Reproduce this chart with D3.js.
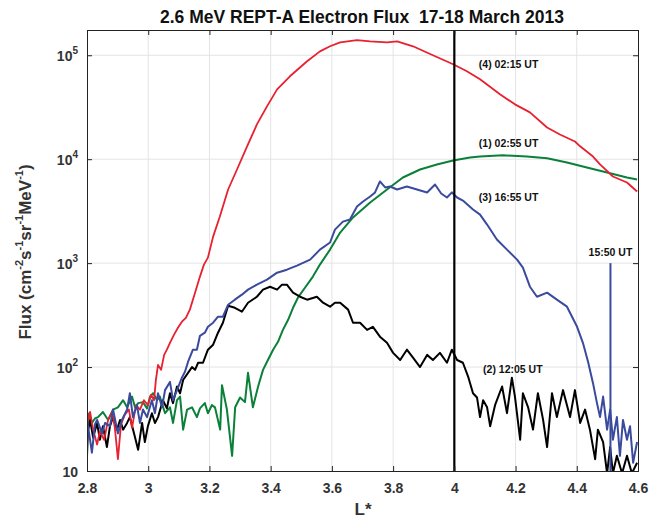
<!DOCTYPE html>
<html><head><meta charset="utf-8">
<script src="https://cdn.jsdelivr.net/npm/d3@7"></script>
<style>body{margin:0;background:#fff}svg{display:block}text{font-family:"Liberation Sans",Arial,sans-serif}</style>
</head><body><svg id="c" width="650" height="522"></svg>
<script>
const title = "2.6 MeV REPT-A Electron Flux\u00a0\u00a017-18 March 2013";
const xTicks = [2.8,3,3.2,3.4,3.6,3.8,4,4.2,4.4,4.6];
const yTicks = [10,100,1000,10000,100000];

// (4) 02:15 UT — red
const redL = [2.80,2.81,2.82,2.833,2.842,2.856,2.869,2.882,2.891,2.901,2.911,2.924,2.937,2.947,2.96,2.973,2.986,2.999,3.009,3.019,3.025,3.032,3.042,3.052,3.061,3.071,3.084,3.097,3.11,3.123,3.136,3.153,3.169,3.182,3.195,3.212,3.234,3.261,3.29,3.323,3.355,3.388,3.421,3.463,3.519,3.561,3.594,3.627,3.682,3.725,3.78,3.813,3.865,3.93,3.996,4.041,4.084,4.149,4.198,4.247,4.303,4.345,4.394,4.411,4.453,4.476,4.518,4.564,4.597];
const redFlux = [28,37,25,18,24,20,31,37,26,13,28,35,39,26,43,39,48,43,54,48,75,105,94,131,147,171,204,239,273,298,357,520,742,968,1130,1800,2810,5110,7960,13270,21600,32200,47000,62800,87600,109000,122000,133000,140000,136000,133000,136000,122000,100000,81900,70100,58700,42100,33700,28200,20200,17300,14800,13300,10600,8900,6820,5970,4890];

// (1) 02:55 UT — green
const greenL = [2.80,2.807,2.816,2.826,2.836,2.852,2.869,2.885,2.901,2.918,2.931,2.947,2.957,2.967,2.983,2.996,3.006,3.016,3.029,3.038,3.055,3.071,3.081,3.094,3.104,3.114,3.127,3.143,3.159,3.169,3.185,3.195,3.208,3.218,3.235,3.241,3.257,3.274,3.284,3.3,3.316,3.326,3.342,3.359,3.375,3.391,3.408,3.424,3.44,3.457,3.473,3.489,3.512,3.538,3.561,3.594,3.627,3.669,3.725,3.78,3.832,3.888,3.943,3.996,4.051,4.084,4.159,4.237,4.303,4.368,4.433,4.499,4.564,4.597];
const greenFlux = [25,36,29,32,33,37,31,39,41,48,41,52,41,45,46,40,52,56,48,52,36,41,29,48,52,25,39,41,33,40,45,36,43,41,25,67,39,14,41,51,46,88,41,65,94,117,147,175,228,285,372,465,580,742,968,1350,1970,2750,3830,5110,6670,7960,8900,9720,10400,10600,10900,10600,10200,9300,8330,7450,6670,6380];

// (3) 16:55 UT — blue
const blueL = [2.80,2.81,2.816,2.826,2.833,2.849,2.859,2.875,2.885,2.901,2.914,2.931,2.94,2.95,2.963,2.973,2.983,2.996,3.012,3.022,3.032,3.045,3.055,3.071,3.081,3.097,3.11,3.12,3.13,3.146,3.159,3.169,3.185,3.195,3.212,3.228,3.244,3.261,3.283,3.306,3.326,3.355,3.388,3.421,3.453,3.486,3.529,3.561,3.594,3.61,3.636,3.659,3.682,3.702,3.725,3.741,3.757,3.774,3.79,3.813,3.845,3.878,3.911,3.937,3.957,3.976,3.992,4.009,4.028,4.061,4.084,4.107,4.139,4.172,4.205,4.224,4.247,4.27,4.303,4.335,4.368,4.401,4.42,4.437,4.453,4.466,4.476,4.486,4.499,4.509,4.518,4.531,4.541,4.551,4.564,4.574,4.584,4.597];
const blueFlux = [31,20,15,28,31,23,29,27,39,23,31,39,56,33,43,29,39,33,48,36,56,41,60,72,48,63,79,90,112,147,147,200,214,244,267,305,305,398,445,497,556,621,693,809,865,946,1080,1350,1580,2100,2510,2630,3500,3920,4380,4790,6110,5350,5460,5110,5460,5110,4790,5710,4680,4280,4790,4280,4000,3280,2930,2350,1690,1350,1080,906,593,475,520,445,381,244,171,112,70,45,33,52,25,39,20,33,14,31,20,27,12,19];

// (2) 12:05 UT — black
const blackL = [2.80,2.803,2.81,2.82,2.833,2.842,2.852,2.865,2.875,2.885,2.898,2.908,2.918,2.931,2.94,2.957,2.967,2.98,2.989,2.999,3.012,3.022,3.032,3.048,3.061,3.071,3.081,3.094,3.104,3.114,3.13,3.143,3.153,3.163,3.179,3.195,3.212,3.228,3.244,3.261,3.283,3.306,3.326,3.355,3.375,3.398,3.421,3.437,3.453,3.473,3.496,3.519,3.551,3.571,3.594,3.61,3.627,3.653,3.669,3.692,3.715,3.734,3.757,3.78,3.8,3.823,3.845,3.865,3.888,3.911,3.93,3.953,3.976,3.992,4.009,4.028,4.045,4.061,4.074,4.084,4.094,4.107,4.117,4.133,4.156,4.172,4.188,4.198,4.215,4.224,4.241,4.257,4.273,4.29,4.303,4.319,4.335,4.355,4.378,4.394,4.411,4.427,4.443,4.46,4.469,4.486,4.499,4.509,4.518,4.531,4.548,4.564,4.58,4.597];
const blackFlux = [14,24,31,21,29,20,27,17,27,33,25,31,25,29,33,21,16,29,19,27,36,29,33,48,40,56,45,65,56,75,88,100,94,110,110,147,164,214,267,389,372,341,416,475,556,593,556,621,621,520,475,445,475,416,381,416,416,357,267,267,228,244,196,171,137,117,147,123,100,131,117,137,110,147,117,110,81,56,51,33,48,41,27,43,65,36,79,52,20,56,41,25,56,31,17,56,33,60,33,60,29,39,25,13,25,19,9.5,17,9.5,14,9.5,14,9.5,12];

const labels = [
  {text:"(4) 02:15 UT", L:4.08, flux:75000},
  {text:"(1) 02:55 UT", L:4.08, flux:13000},
  {text:"(3) 16:55 UT", L:4.08, flux:3950},
  {text:"(2) 12:05 UT", L:4.094, flux:87}
];
const markerL = 4.0;
const spikeL = 4.51, spikeTop = 1000, spikeLabel = "15:50 UT";

const svg = d3.select("#c");
const m = {l:87, r:638, t:30, b:471};
const x = d3.scaleLinear().domain([2.8,4.6]).range([m.l,m.r]);
const y = d3.scaleLog().domain([10,175000]).range([m.b,m.t]);

// grid
svg.append("g").selectAll("line").data(xTicks.slice(1,-1)).join("line")
  .attr("x1",d=>x(d)).attr("x2",d=>x(d)).attr("y1",m.t).attr("y2",m.b)
  .attr("stroke","#e4e4e4").attr("stroke-width",1);
svg.append("g").selectAll("line").data(yTicks.slice(1)).join("line")
  .attr("y1",d=>y(d)).attr("y2",d=>y(d)).attr("x1",m.l).attr("x2",m.r)
  .attr("stroke","#e4e4e4").attr("stroke-width",1);

svg.append("defs").append("clipPath").attr("id","clip").append("rect")
  .attr("x",m.l).attr("y",m.t).attr("width",m.r-m.l).attr("height",m.b-m.t);

const line = d3.line().x(d=>x(d[0])).y(d=>y(d[1]));
const series = [
  {L:greenL, f:greenFlux, c:"#0a8038", w:2},
  {L:blackL, f:blackFlux, c:"#000000", w:2},
  {L:redL, f:redFlux, c:"#e8202f", w:1.8},
  {L:blueL, f:blueFlux, c:"#3a4b9e", w:2}
];
const gl = svg.append("g").attr("clip-path","url(#clip)");
series.forEach(s=>{
  gl.append("path").datum(s.L.map((l,i)=>[l,s.f[i]]))
    .attr("d",line).attr("fill","none").attr("stroke",s.c)
    .attr("stroke-width",s.w).attr("stroke-linejoin","round");
});
// spike at 15:50 UT
gl.append("line").attr("x1",x(spikeL)).attr("x2",x(spikeL))
  .attr("y1",y(spikeTop)).attr("y2",m.b).attr("stroke","#3a4b9e").attr("stroke-width",2);
// marker line
svg.append("line").attr("x1",x(markerL)).attr("x2",x(markerL))
  .attr("y1",m.t).attr("y2",m.b).attr("stroke","#000").attr("stroke-width",2.2);

// axes (box with inward ticks)
const axB = d3.axisBottom(x).tickValues(xTicks).tickSize(-5).tickPadding(12).tickFormat(d=>d3.format("")(d));
const axT = d3.axisTop(x).tickValues(xTicks).tickSize(-5).tickFormat("");
const axL = d3.axisLeft(y).tickValues(yTicks).tickSize(-5).tickPadding(10).tickFormat("");
const axR = d3.axisRight(y).tickValues(yTicks).tickSize(-5).tickFormat("");
function styleAx(g){g.select(".domain").attr("stroke","#222").attr("stroke-width",1);
  g.selectAll(".tick line").attr("stroke","#222");}
const gB = svg.append("g").attr("transform",`translate(0,${m.b})`).call(axB).call(styleAx);
gB.selectAll("text").attr("font-size",14).attr("font-weight","bold").attr("fill","#333")
  .attr("font-family","Liberation Sans, Arial, sans-serif");
svg.append("g").attr("transform",`translate(0,${m.t})`).call(axT).call(styleAx);
svg.append("g").attr("transform",`translate(${m.l},0)`).call(axL).call(styleAx);
svg.append("g").attr("transform",`translate(${m.r},0)`).call(axR).call(styleAx);

// y tick labels with superscripts
yTicks.forEach(v=>{
  const e = Math.round(Math.log10(v));
  const t = svg.append("text").attr("x",m.l-9).attr("y",y(v)+6).attr("text-anchor","end")
    .attr("font-size",14).attr("font-weight","bold").attr("fill","#333");
  if(e===1){t.text("10");}
  else{t.append("tspan").text("10");
    t.append("tspan").attr("dy",-7).attr("font-size",10).text(e);}
});

// title
svg.append("text").attr("x",362).attr("y",23).attr("text-anchor","middle")
  .attr("font-size",17.5).attr("font-weight","bold").attr("fill","#111").text(title);
// x label
svg.append("text").attr("x",363).attr("y",515).attr("text-anchor","middle")
  .attr("font-size",17).attr("font-weight","bold").attr("fill","#333").text("L*");
// y label
const yl = svg.append("text").attr("transform","translate(31,252) rotate(-90)")
  .attr("text-anchor","middle").attr("font-size",17).attr("font-weight","bold").attr("fill","#333");
[["Flux (cm",0],["-2",1],["s",0],["-1",1],["sr",0],["-1",1],["MeV",0],["-1",1],[")",0]].forEach(([s,sup],i,arr)=>{
  const prev = i>0 ? arr[i-1][1] : 0;
  const ts = yl.append("tspan").text(s);
  if(sup){ts.attr("font-size",11).attr("dy", prev? 0 : -8);}
  else if(prev){ts.attr("dy",8);}
});

// annotations
labels.forEach(a=>{
  svg.append("text").attr("x",x(a.L)).attr("y",y(a.flux)).attr("font-size",10.5)
    .attr("font-weight","bold").attr("fill","#111").text(a.text);
});
svg.append("text").attr("x",x(spikeL)).attr("y",y(spikeTop)-7).attr("text-anchor","middle")
  .attr("font-size",10.5).attr("font-weight","bold").attr("fill","#111").text(spikeLabel);
</script></body></html>
